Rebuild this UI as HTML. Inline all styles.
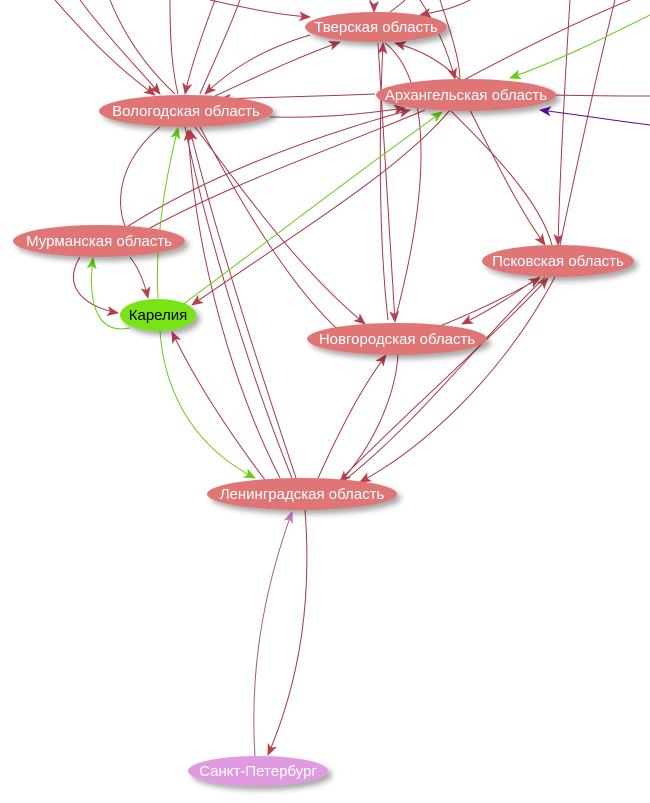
<!DOCTYPE html>
<html><head><meta charset="utf-8"><style>
html,body{margin:0;padding:0;background:#fff;}
svg{display:block;}
text{font-family:"Liberation Sans",Arial,sans-serif;font-size:15px;text-anchor:middle;}
</style></head><body>
<svg width="650" height="803" viewBox="0 0 650 803" xmlns="http://www.w3.org/2000/svg">
<defs>
<marker id="r" markerWidth="12" markerHeight="10" refX="11" refY="5" orient="auto" markerUnits="userSpaceOnUse"><path d="M0,0 L12,5 L0,10 L3,5 z" fill="#b8404a"/></marker>
<marker id="g" markerWidth="12" markerHeight="10" refX="11" refY="5" orient="auto" markerUnits="userSpaceOnUse"><path d="M0,0 L12,5 L0,10 L3,5 z" fill="#66cc11"/></marker>
<marker id="p" markerWidth="12" markerHeight="10" refX="11" refY="5" orient="auto" markerUnits="userSpaceOnUse"><path d="M0,0 L12,5 L0,10 L3,5 z" fill="#5a0a9a"/></marker>
<marker id="m" markerWidth="12" markerHeight="10" refX="11" refY="5" orient="auto" markerUnits="userSpaceOnUse"><path d="M0,0 L12,5 L0,10 L3,5 z" fill="#c07ac8"/></marker>
<filter id="sh" x="-20%" y="-30%" width="150%" height="180%"><feDropShadow dx="4" dy="4" stdDeviation="3" flood-color="#000" flood-opacity="0.35"/></filter>
</defs>
<g fill="none" stroke="#a83848" stroke-width="1">
<path d="M55,0 C90,40 120,70 155,95" marker-end="url(#r)"/>
<path d="M80,0 C110,40 140,70 160,94" marker-end="url(#r)"/>
<path d="M110,0 C130,50 160,80 175,94"/>
<path d="M215,0 C200,40 190,70 185,94" marker-end="url(#r)"/>
<path d="M170,0 C170,40 172,70 178,94"/>
<path d="M240,0 C225,40 210,70 200,94"/>
<path d="M210,0 C255,10 280,15 310,17" marker-end="url(#r)"/>
<path d="M370,0 C372,5 374,8 374,12" marker-end="url(#r)"/>
<path d="M405,0 C400,5 395,8 390,12"/>
<path d="M470,0 C450,10 435,12 420,15" marker-end="url(#r)"/>
<path d="M420,0 C440,30 450,60 455,79" marker-end="url(#r)"/>
<path d="M440,0 C450,30 460,60 460,80"/>
<path d="M310,35 C260,50 230,70 205,94" marker-end="url(#r)"/>
<path d="M215,96 C250,80 290,60 340,42" marker-end="url(#r)"/>
<path d="M460,80 C440,60 420,50 395,43" marker-end="url(#r)"/>
<path d="M385,43 C420,70 440,150 395,320"/>
<path d="M378,43 C385,150 390,250 395,322" marker-end="url(#r)"/>
<path d="M388,320 C380,250 378,150 383,43" marker-end="url(#r)"/>
<path d="M375,94 C320,96 260,98 220,99" marker-end="url(#r)"/>
<path d="M270,117 C310,118 350,116 405,108" marker-end="url(#r)"/>
<path d="M125,228 C200,180 300,140 410,110" marker-end="url(#r)"/>
<path d="M150,228 C240,180 330,150 425,110"/>
<path d="M450,110 C400,170 300,230 192,305" marker-end="url(#r)"/>
<path d="M160,127 C120,160 115,200 125,226"/>
<path d="M195,127 C250,200 300,270 365,324" marker-end="url(#r)"/>
<path d="M200,127 C250,220 300,300 350,340"/>
<path d="M185,127 C210,250 260,400 292,478"/>
<path d="M296,478 C270,400 220,250 190,130" marker-end="url(#r)"/>
<path d="M280,478 C230,380 195,250 188,130" marker-end="url(#r)"/>
<path d="M470,110 C500,170 520,210 545,245" marker-end="url(#r)"/>
<path d="M450,110 C490,150 540,200 552,245"/>
<path d="M570,0 C565,80 560,170 558,245" marker-end="url(#r)"/>
<path d="M560,245 C580,150 600,60 615,0"/>
<path d="M460,82 C520,50 580,20 630,0"/>
<path d="M555,95 C590,96 620,96 650,96"/>
<path d="M540,276 C520,290 500,305 462,324" marker-end="url(#r)"/>
<path d="M440,326 C480,310 510,295 540,278" marker-end="url(#r)"/>
<path d="M545,277 C480,340 420,420 345,480"/>
<path d="M555,277 C500,380 420,450 360,482" marker-end="url(#r)"/>
<path d="M340,480 C420,400 500,330 548,278" marker-end="url(#r)"/>
<path d="M318,478 C340,430 360,390 386,355" marker-end="url(#r)"/>
<path d="M398,355 C395,400 370,450 340,482" marker-end="url(#r)"/>
<path d="M265,480 C220,420 190,370 172,332" marker-end="url(#r)"/>
<path d="M130,257 C140,270 145,285 148,298" marker-end="url(#r)"/>
<path d="M80,257 C60,290 90,308 118,313" marker-end="url(#r)"/>
<path d="M305,510 C312,600 300,680 268,755" marker-end="url(#r)"/>
</g>
<g fill="none" stroke-width="1">
<path d="M255,757 C250,680 260,600 292,512" stroke="#a06080" marker-end="url(#m)"/>
<path d="M158,298 C155,240 165,180 178,128" stroke="#66cc11" marker-end="url(#g)"/>
<path d="M130,328 C95,335 88,300 93,258" stroke="#66cc11" marker-end="url(#g)"/>
<path d="M160,331 C165,400 200,450 255,478" stroke="#66cc11" marker-end="url(#g)"/>
<path d="M182,305 C270,240 360,170 442,112" stroke="#66cc11" marker-end="url(#g)"/>
<path d="M650,15 C600,40 560,60 510,78" stroke="#66cc11" marker-end="url(#g)"/>
<path d="M650,125 C610,120 580,115 540,110" stroke="#5a0a9a" marker-end="url(#p)"/>
</g>
<g filter="url(#sh)" fill="#e07474">
<ellipse cx="376" cy="27" rx="71" ry="15"/>
<ellipse cx="466" cy="95" rx="90" ry="16"/>
<ellipse cx="186" cy="111" rx="87" ry="16"/>
<ellipse cx="99" cy="241" rx="86" ry="16"/>
<ellipse cx="558" cy="261" rx="76" ry="16"/>
<ellipse cx="397" cy="339" rx="90" ry="16"/>
<ellipse cx="302" cy="494" rx="95" ry="16"/>
<ellipse cx="158" cy="315" rx="38" ry="16" fill="#78e414"/>
<ellipse cx="258" cy="771" rx="70" ry="15" fill="#e09ae0"/>
</g>
<g fill="#fff">
<text x="376" y="32">Тверская область</text>
<text x="466" y="100">Архангельская область</text>
<text x="186" y="116">Вологодская область</text>
<text x="99" y="246">Мурманская область</text>
<text x="558" y="266">Псковская область</text>
<text x="397" y="344">Новгородская область</text>
<text x="302" y="499">Ленинградская область</text>
<text x="158" y="320" fill="#000">Карелия</text>
<text x="258" y="776">Санкт-Петербург</text>
</g>
</svg>
</body></html>
